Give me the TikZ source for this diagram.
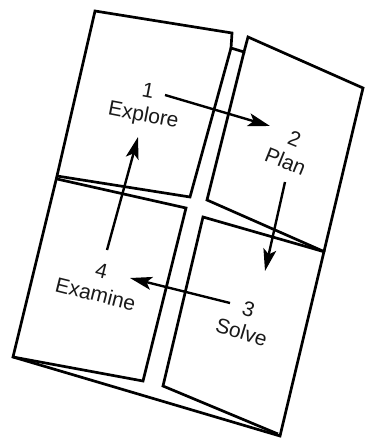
\documentclass[tikz,border=0pt]{standalone}
\usepackage{fontspec}
\setmainfont{Liberation Sans}
\usetikzlibrary{arrows.meta}
\begin{document}
\begin{tikzpicture}[x=1pt,y=-1pt,
  panel/.style={line width=2.7pt, line join=miter, black},
  arr/.style={line width=2.4pt, black, -{Stealth[length=22pt,width=13pt,inset=5pt]}},
  lbl/.style={font=\fontsize{21}{24}\selectfont, inner sep=0pt, align=center, text=black!90}]
\useasboundingbox (0,0) rectangle (365,438);
% outer outline with notch
\draw[panel] (57,176) -- (95,11) -- (232,33) -- (231,48) -- (244,52) -- (248,37)
  -- (363,88) -- (280,436) -- (13,357) -- cycle;
% upper-left panel
\draw[panel] (231,48) -- (190,197) -- (57,176);
% upper-right panel
\draw[panel] (244,52) -- (207,200) -- (325,252);
% lower-left panel
\draw[panel] (57,179) -- (186,208) -- (143,381) -- (13,357);
% lower-right panel
\draw[panel] (325,252) -- (203,217) -- (163,386) -- (278,434);
% labels
\node[lbl, rotate=-11] (l1) at (145.5,104.5) {1\\Explore};
\node[lbl, rotate=-22] (l2) at (290,150.5) {2\\Plan};
\node[lbl, rotate=-17] (l3) at (245,320.5) {3\\Solve};
\node[lbl, rotate=-14] (l4) at (98.5,282.5) {4\\Examine};
% arrow ends
\coordinate (a1s) at (165,95);  \coordinate (a1e) at (270,126);
\coordinate (a2s) at (285,182); \coordinate (a2e) at (265,271);
\coordinate (a3s) at (230,303); \coordinate (a3e) at (130,278);
\coordinate (a4s) at (107,250); \coordinate (a4e) at (138,137);
\draw[arr] (a1s) -- (a1e);
\draw[arr] (a2s) -- (a2e);
\draw[arr] (a3s) -- (a3e);
\draw[arr] (a4s) -- (a4e);
\end{tikzpicture}
\end{document}
